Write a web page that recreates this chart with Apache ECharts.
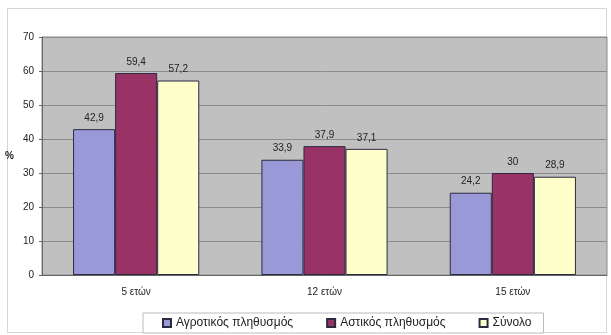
<!DOCTYPE html>
<html>
<head>
<meta charset="utf-8">
<script src="https://cdn.jsdelivr.net/npm/echarts@6/dist/echarts.min.js"></script>
<style>
html,body{margin:0;padding:0;background:#fff;}
#frame{position:absolute;left:7px;top:8px;width:600px;height:325px;border:1px solid #d6d6d6;box-sizing:border-box;}
#chart{width:611px;height:335px;}
</style>
</head>
<body>
<div id="frame"></div>
<div id="chart"></div>
<script>
// Age groups on the x axis
const categories = ['5 ετών', '12 ετών', '15 ετών'];
// Percentages per population group
const rural = [42.9, 33.9, 24.2];
const urban = [59.4, 37.9, 30];
const total = [57.2, 37.1, 28.9];
const seriesNames = ['Αγροτικός πληθυσμός', 'Αστικός πληθυσμός', 'Σύνολο'];
const yTicks = [0, 10, 20, 30, 40, 50, 60, 70];

const fmt = v => String(v).replace('.', ',');

const chart = echarts.init(document.getElementById('chart'), null, {renderer: 'canvas'});
const font = 'Liberation Sans, Arial, sans-serif';

function bar(name, data, color) {
  return {
    name, type: 'bar', data,
    barGap: '0%', barCategoryGap: '33%',
    itemStyle: {color, borderColor: '#2a2a40', borderWidth: 1},
    label: {
      show: true, position: 'top', distance: 6,
      formatter: p => fmt(p.value),
      color: '#222', fontSize: 10, fontFamily: font
    }
  };
}

chart.setOption({
  backgroundColor: 'transparent',
  animation: false,
  grid: {left: 42, right: 4, top: 37, bottom: 60, containLabel: false,
         show: true, backgroundColor: '#c0c0c0', borderColor: '#8a8a8a', borderWidth: 1},
  legend: {
    data: seriesNames, bottom: 2, left: 143,
    itemWidth: 8, itemHeight: 8, itemGap: 33,
    padding: [4, 12, 4, 19], borderColor: '#bbb', borderWidth: 1, backgroundColor: '#fff',
    textStyle: {fontSize: 12, color: '#222', fontFamily: font},
    icon: 'rect'
  },
  xAxis: {
    type: 'category', data: categories,
    axisLine: {lineStyle: {color: '#666'}},
    axisTick: {show: false},
    axisLabel: {fontSize: 10, color: '#222', margin: 12, fontFamily: font}
  },
  yAxis: {
    type: 'value', min: yTicks[0], max: yTicks[yTicks.length - 1], interval: 10,
    name: '%', nameLocation: 'middle', nameGap: 28, nameRotate: 0,
    nameTextStyle: {fontSize: 10, color: '#222', fontWeight: 'bold', fontFamily: font},
    axisLine: {show: true, lineStyle: {color: '#666'}},
    axisTick: {show: true, length: 3, lineStyle: {color: '#666'}},
    axisLabel: {fontSize: 10, color: '#222', margin: 8, fontFamily: font},
    splitLine: {lineStyle: {color: '#8c8c8c', width: 1}}
  },
  series: [
    bar(seriesNames[0], rural, '#9999d8'),
    bar(seriesNames[1], urban, '#993366'),
    bar(seriesNames[2], total, '#ffffcc')
  ]
});
</script>
</body>
</html>
